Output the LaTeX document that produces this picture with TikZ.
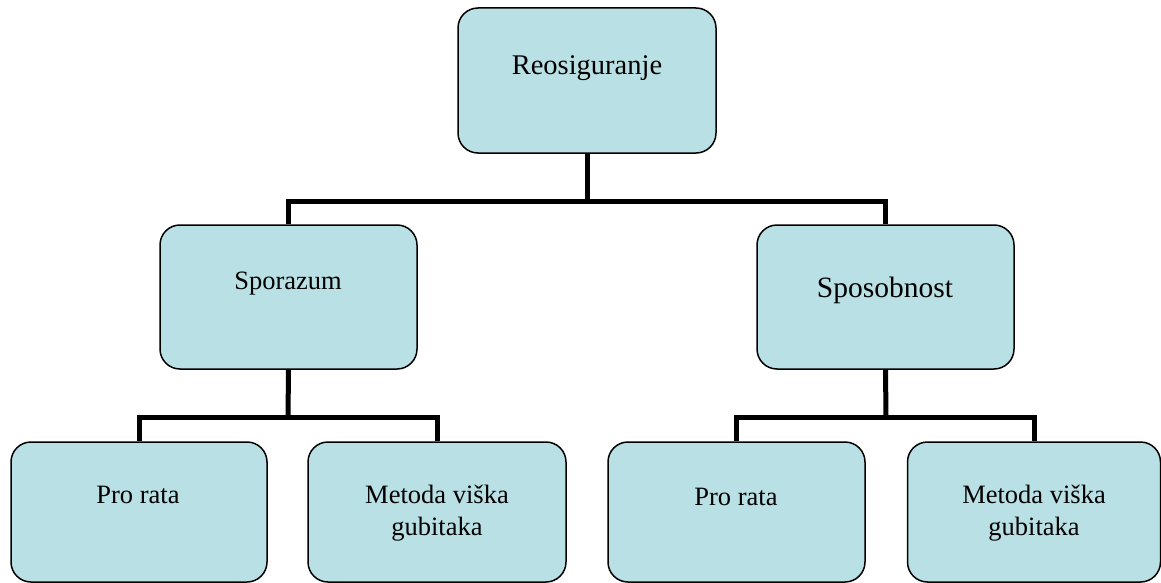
\documentclass[tikz,border=0pt]{standalone}
\usepackage{fontspec}
\setmainfont{Liberation Serif}
\definecolor{boxfill}{RGB}{185,224,228}
\tikzset{
  box/.style={draw=black, line width=1.5pt, fill=boxfill, rounded corners=20pt, inner sep=0pt},
  conn/.style={draw=black, line width=5pt, line join=miter},
  lbl/.style={anchor=base, inner sep=0pt, font=\fontsize{26.5}{31}\selectfont},
}
\begin{document}
\begin{tikzpicture}[x=1pt,y=-1pt]
\useasboundingbox (0,0) rectangle (1161,583);
% boxes
\node[box, minimum width=258pt, minimum height=145pt] (top) at (587,80.5) {};
\node[box, minimum width=257pt, minimum height=144pt] (spor) at (288.5,297) {};
\node[box, minimum width=257pt, minimum height=144pt] (spos) at (885.5,297) {};
\node[box, minimum width=256pt, minimum height=140pt] (pr1) at (139,512) {};
\node[box, minimum width=258pt, minimum height=140pt] (mv1) at (437,512) {};
\node[box, minimum width=257pt, minimum height=140pt] (pr2) at (736.5,512) {};
\node[box, minimum width=253pt, minimum height=140pt] (mv2) at (1034,512) {};
% bus coordinates
\coordinate (bus0) at (587,201);
\coordinate (bus1) at (288,417);
\coordinate (bus2) at (886,417);
% connectors
\draw[conn] (top.south) -- (bus0);
\draw[conn] (spor.north) |- (bus0) -| (spos.north);
\draw[conn] (spor.south) -- (bus1);
\draw[conn] (pr1.north) |- (bus1) -| (mv1.north);
\draw[conn] (spos.south) -- (bus2);
\draw[conn] (pr2.north) |- (bus2) -| (mv2.north);
% labels
\node[lbl, font=\fontsize{28.5}{33}\selectfont] (ttop) at (587,75) {Reosiguranje};
\node[lbl] (tspor) at (288,289) {Sporazum};
\node[lbl, font=\fontsize{29.5}{34}\selectfont] (tspos) at (885,297) {Sposobnost};
\node[lbl] (tpr1) at (138,503) {Pro rata};
\node[lbl] (tmv1a) at (437,503) {Metoda viška};
\node[lbl] (tmv1b) at (437,535) {gubitaka};
\node[lbl] (tpr2) at (736,505) {Pro rata};
\node[lbl] (tmv2a) at (1034,503) {Metoda viška};
\node[lbl] (tmv2b) at (1034,535) {gubitaka};
\end{tikzpicture}
\end{document}
